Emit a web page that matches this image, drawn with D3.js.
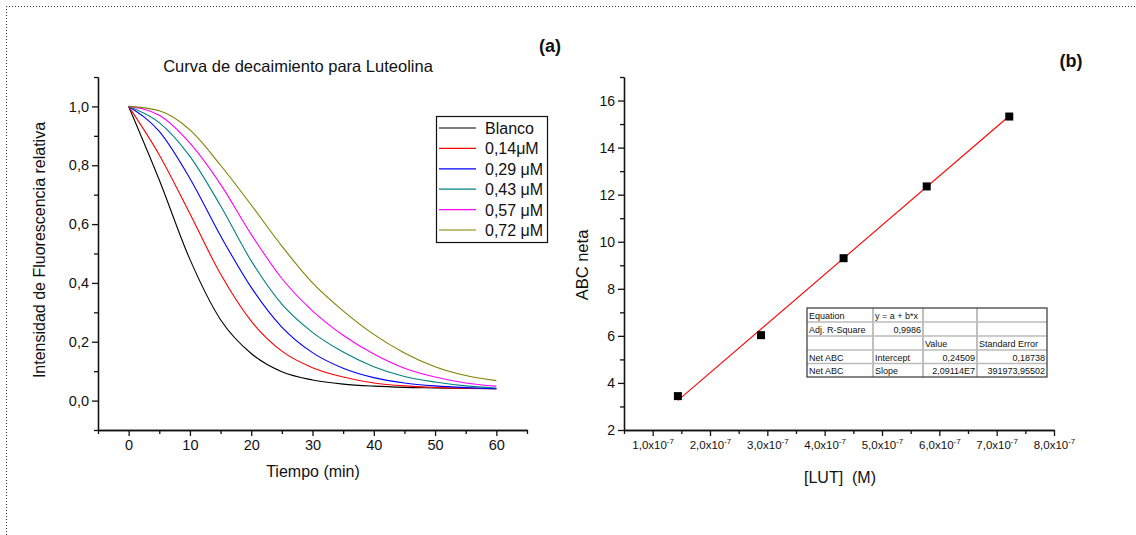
<!DOCTYPE html>
<html lang="es">
<head>
<meta charset="UTF-8">
<title>Curva de decaimiento para Luteolina</title>
<script src="https://cdn.jsdelivr.net/npm/d3@7"></script>
<style>
	body { margin: 0; background: #fff; }
	svg text { font-family: "Liberation Sans", Arial, sans-serif; fill: #111; }
	.axis path, .axis line { stroke: #111; stroke-width: 1.3; }
</style>
</head>
<body>
<div id="viz"></div>
<script>
// ---- data (a): decay curves ----
const times = [0, 5, 10, 15, 20, 25, 30, 35, 40, 45, 50, 55, 60];
const blanco = [1.0, 0.75, 0.48, 0.275, 0.16, 0.098, 0.07, 0.056, 0.049, 0.045, 0.043, 0.041, 0.04];
const c014 = [1.0, 0.835, 0.635, 0.43, 0.27, 0.168, 0.112, 0.08, 0.06, 0.05, 0.045, 0.042, 0.04];
const c029 = [1.0, 0.915, 0.755, 0.56, 0.385, 0.25, 0.163, 0.11, 0.078, 0.06, 0.05, 0.044, 0.04];
const c043 = [1.0, 0.945, 0.83, 0.662, 0.475, 0.328, 0.232, 0.165, 0.115, 0.082, 0.063, 0.05, 0.043];
const c057 = [1.0, 0.97, 0.875, 0.735, 0.565, 0.415, 0.305, 0.222, 0.158, 0.11, 0.08, 0.06, 0.049];
const c072 = [1.0, 0.985, 0.92, 0.8, 0.665, 0.525, 0.4, 0.305, 0.225, 0.162, 0.115, 0.085, 0.068];
const seriesNames = ['Blanco', '0,14\u03bcM', '0,29 \u03bcM', '0,43 \u03bcM', '0,57 \u03bcM', '0,72 \u03bcM'];
const seriesValues = [blanco, c014, c029, c043, c057, c072];
const seriesColors = ['#000000', '#ff0000', '#0000ff', '#008080', '#ff00ff', '#808000'];
const xTicksA = [0, 10, 20, 30, 40, 50, 60];
const yTicksA = [0, 0.2, 0.4, 0.6, 0.8, 1.0];

// ---- data (b): calibration ----
const conc = [1.44e-7, 2.89e-7, 4.33e-7, 5.78e-7, 7.22e-7];
const abc = [3.44, 6.03, 9.30, 12.35, 15.32];
const intercept = 0.24509, slope = 2.09114e7;
const xTicksB = [1, 2, 3, 4, 5, 6, 7, 8];
const yTicksB = [2, 4, 6, 8, 10, 12, 14, 16];
const tableRows = [
	['Equation', 'y = a + b*x', '', ''],
	['Adj. R-Square', '0,9986', '', ''],
	['', '', 'Value', 'Standard Error'],
	['Net ABC', 'Intercept', '0,24509', '0,18738'],
	['Net ABC', 'Slope', '2,09114E7', '391973,95502']
];
const rightAligned = [[false, false, false, false], [false, true, false, false], [false, false, false, false],
	[false, false, true, true], [false, false, true, true]];

const comma = f => v => d3.format(f)(v).replace('.', ',');

const svg = d3.select('#viz').append('svg')
	.attr('width', 1136).attr('height', 535);

// dotted frame (top and left only visible)
svg.append('line').attr('x1', 6).attr('x2', 1136).attr('y1', 6.5).attr('y2', 6.5)
	.attr('stroke', '#333').attr('stroke-dasharray', '1,2');
svg.append('line').attr('x1', 6.5).attr('x2', 6.5).attr('y1', 6).attr('y2', 535)
	.attr('stroke', '#333').attr('stroke-dasharray', '1,2');

// ================= chart (a) =================
let xA = d3.scaleLinear().domain([-5, 65]).range([98, 527]);
let yA = d3.scaleLinear().domain([-0.1, 1.1]).range([430, 77]);

let gA = svg.append('g');

gA.append('g').attr('class', 'axis').attr('transform', 'translate(0,430)')
	.call(d3.axisBottom(xA).tickValues(d3.range(-5, 66, 10)).tickSize(4).tickSizeOuter(0).tickFormat(''));
gA.append('g').attr('class', 'axis').attr('transform', 'translate(0,430)')
	.call(d3.axisBottom(xA).tickValues(xTicksA).tickSize(6).tickSizeOuter(0).tickPadding(4))
	.selectAll('text').style('font-size', '14.5px');
gA.append('g').attr('class', 'axis').attr('transform', 'translate(98,0)')
	.call(d3.axisLeft(yA).tickValues(d3.range(-1, 12, 2).map(d => d / 10)).tickSize(4).tickSizeOuter(0).tickFormat(''));
gA.append('g').attr('class', 'axis').attr('transform', 'translate(98,0)')
	.call(d3.axisLeft(yA).tickValues(yTicksA).tickSize(6).tickSizeOuter(0).tickPadding(3).tickFormat(comma('.1f')))
	.selectAll('text').style('font-size', '14.5px');

let line = d3.line()
	.x((d, i) => xA(times[i]))
	.y(d => yA(d))
	.curve(d3.curveMonotoneX);

seriesValues.forEach((vals, k) => {
	gA.append('path')
		.attr('d', line(vals))
		.attr('fill', 'none')
		.attr('stroke', seriesColors[k])
		.attr('stroke-width', 1.1);
});

gA.append('text').attr('x', 298).attr('y', 72).attr('text-anchor', 'middle')
	.style('font-size', '16.5px').text('Curva de decaimiento para Luteolina');
gA.append('text').attr('x', 550).attr('y', 52).attr('text-anchor', 'middle')
	.style('font-size', '18px').style('font-weight', 'bold').text('(a)');
gA.append('text').attr('x', 313).attr('y', 477).attr('text-anchor', 'middle')
	.style('font-size', '16px').text('Tiempo (min)');
gA.append('text').attr('transform', 'translate(45,250) rotate(-90)').attr('text-anchor', 'middle')
	.style('font-size', '16px').text('Intensidad de Fluorescencia relativa');

// legend
let leg = gA.append('g').attr('transform', 'translate(436,116)');
leg.append('rect').attr('x', 0.5).attr('y', 0.5).attr('width', 111).attr('height', 126)
	.attr('fill', '#fff').attr('stroke', '#111').attr('stroke-width', 1.2);
seriesNames.forEach((name, k) => {
	let yy = 12 + k * 20.4;
	leg.append('line').attr('x1', 3).attr('x2', 40).attr('y1', yy).attr('y2', yy)
		.attr('stroke', seriesColors[k]).attr('stroke-width', 1.2);
	leg.append('text').attr('x', 49).attr('y', yy + 6).style('font-size', '16px').text(name);
});

// ================= chart (b) =================
let xB = d3.scaleLinear().domain([0.5e-7, 8.0e-7]).range([624, 1054]);
let yB = d3.scaleLinear().domain([2, 17]).range([430, 77]);

let gB = svg.append('g');

gB.append('g').attr('class', 'axis').attr('transform', 'translate(0,430)')
	.call(d3.axisBottom(xB).tickValues(d3.range(0.5, 8, 1).map(d => d * 1e-7)).tickSize(4).tickSizeOuter(0).tickFormat(''));
let xAxB = gB.append('g').attr('class', 'axis').attr('transform', 'translate(0,430)')
	.call(d3.axisBottom(xB).tickValues(xTicksB.map(d => d * 1e-7)).tickSize(6).tickSizeOuter(0).tickFormat(''));
xAxB.selectAll('.tick').append('text')
	.attr('y', 19).attr('text-anchor', 'middle').style('font-size', '11.5px')
	.each(function (d) {
		let t = d3.select(this);
		t.append('tspan').text(comma('.1f')(d * 1e7) + 'x10');
		t.append('tspan').attr('dy', -5).style('font-size', '8px').text('-7');
	});
gB.append('g').attr('class', 'axis').attr('transform', 'translate(624,0)')
	.call(d3.axisLeft(yB).tickValues(d3.range(3, 18, 2)).tickSize(4).tickSizeOuter(0).tickFormat(''));
gB.append('g').attr('class', 'axis').attr('transform', 'translate(624,0)')
	.call(d3.axisLeft(yB).tickValues(yTicksB).tickSize(6).tickSizeOuter(0).tickPadding(3))
	.selectAll('text').style('font-size', '14px');

// fit line
gB.append('line')
	.attr('x1', xB(conc[0])).attr('y1', yB(intercept + slope * conc[0]))
	.attr('x2', xB(conc[conc.length - 1])).attr('y2', yB(intercept + slope * conc[conc.length - 1]))
	.attr('stroke', '#ff0000').attr('stroke-width', 1.1);

gB.selectAll('.pt').data(conc).enter().append('rect')
	.attr('class', 'pt')
	.attr('x', d => xB(d) - 4).attr('y', (d, i) => yB(abc[i]) - 4)
	.attr('width', 8).attr('height', 8).attr('fill', '#000');

gB.append('text').attr('x', 1071).attr('y', 67).attr('text-anchor', 'middle')
	.style('font-size', '18px').style('font-weight', 'bold').text('(b)');
gB.append('text').attr('x', 840).attr('y', 483).attr('text-anchor', 'middle')
	.style('font-size', '16px').attr('xml:space', 'preserve').text('[LUT]  (M)');
gB.append('text').attr('transform', 'translate(588,265) rotate(-90)').attr('text-anchor', 'middle')
	.style('font-size', '16.5px').text('ABC neta');

// stats table
let colX = [807, 873, 923, 977, 1047];
let rowY = [308, 322, 336, 350, 363.5, 377];
let tb = gB.append('g');
tb.append('rect').attr('x', colX[0]).attr('y', rowY[0]).attr('width', colX[4] - colX[0]).attr('height', rowY[5] - rowY[0])
	.attr('fill', '#fff').attr('stroke', 'none');
colX.slice(1, 4).forEach(cx => {
	tb.append('line').attr('x1', cx).attr('x2', cx).attr('y1', rowY[0]).attr('y2', rowY[5])
		.attr('stroke', '#aaa').attr('stroke-width', 1.5);
});
rowY.slice(1, 5).forEach(ry => {
	tb.append('line').attr('x1', colX[0]).attr('x2', colX[4]).attr('y1', ry).attr('y2', ry)
		.attr('stroke', '#bbb').attr('stroke-width', 1.5);
});
tb.append('rect').attr('x', colX[0]).attr('y', rowY[0]).attr('width', colX[4] - colX[0]).attr('height', rowY[5] - rowY[0])
	.attr('fill', 'none').attr('stroke', '#444').attr('stroke-width', 1.3);
tableRows.forEach((row, r) => {
	row.forEach((cell, c) => {
		let ra = rightAligned[r][c];
		tb.append('text')
			.attr('x', ra ? colX[c + 1] - 2 : colX[c] + 2)
			.attr('y', rowY[r] + 10.5)
			.attr('text-anchor', ra ? 'end' : 'start')
			.style('font-size', '9px')
			.text(cell);
	});
});
</script>
</body>
</html>
